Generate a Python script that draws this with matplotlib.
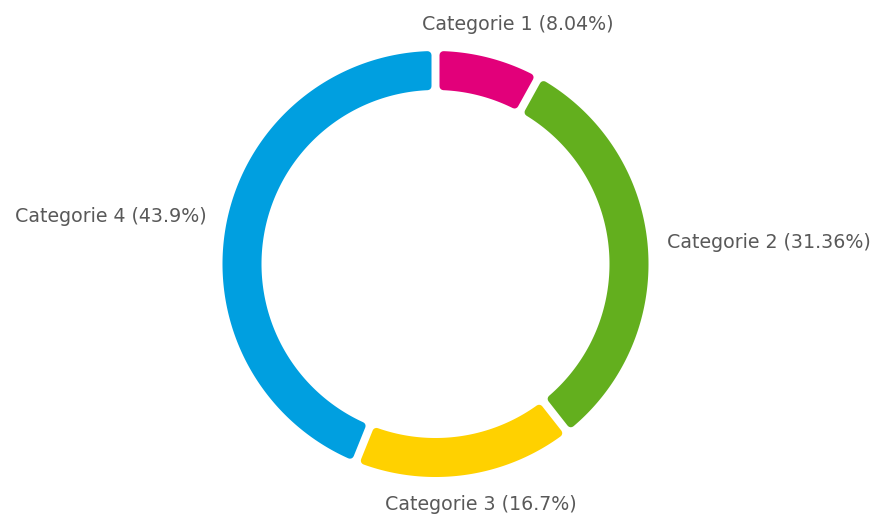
import numpy as np
import matplotlib
matplotlib.use("Agg")
import matplotlib.pyplot as plt
from matplotlib.patches import Polygon

categories = ["Categorie 1", "Categorie 2", "Categorie 3", "Categorie 4"]
values = [8.04, 31.36, 16.7, 43.9]
labels = ["Categorie 1 (8.04%)", "Categorie 2 (31.36%)", "Categorie 3 (16.7%)", "Categorie 4 (43.9%)"]
colors = ["#E2007A", "#63AF1E", "#FFD100", "#009FE0"]

W, H = 877, 518
fig = plt.figure(figsize=(W / 100, H / 100), dpi=100)
ax = fig.add_axes([0, 0, 1, 1])
ax.set_xlim(0, W)
ax.set_ylim(H, 0)
ax.set_aspect("equal")
ax.axis("off")

cx, cy = 435.5, 264
R_out, R_in = 213, 174
gap = 8.0
rad = 4.0  # corner radius (px)
lw_pt = 2 * rad * 72 / 100

total = sum(values)
# angles measured clockwise from top (in radians)
start = 0.0
for v, col in zip(values, colors):
    ext = v / total * 2 * np.pi
    a1, a2 = start, start + ext
    d = gap / 2 + rad
    ro, ri = R_out - rad, R_in + rad
    oa1, oa2 = a1 + np.arcsin(d / ro), a2 - np.arcsin(d / ro)
    ia1, ia2 = a1 + np.arcsin(d / ri), a2 - np.arcsin(d / ri)
    to = np.linspace(oa1, oa2, 200)
    ti = np.linspace(ia2, ia1, 200)
    xs = np.concatenate([cx + ro * np.sin(to), cx + ri * np.sin(ti)])
    ys = np.concatenate([cy - ro * np.cos(to), cy - ri * np.cos(ti)])
    poly = Polygon(np.column_stack([xs, ys]), closed=True, facecolor=col,
                   edgecolor=col, linewidth=lw_pt, joinstyle="round")
    ax.add_patch(poly)
    start = a2

# label layout (pixel positions)
label_pos = [(518, 25, "center"), (667, 243, "left"), (481, 504, "center"), (207, 217, "right")]
for lab, (x, y, ha) in zip(labels, label_pos):
    ax.text(x, y, lab, ha=ha, va="center", fontsize=13.7, color="#595959",
            family=["DejaVu Sans"])

fig.savefig("out.png", dpi=100)
